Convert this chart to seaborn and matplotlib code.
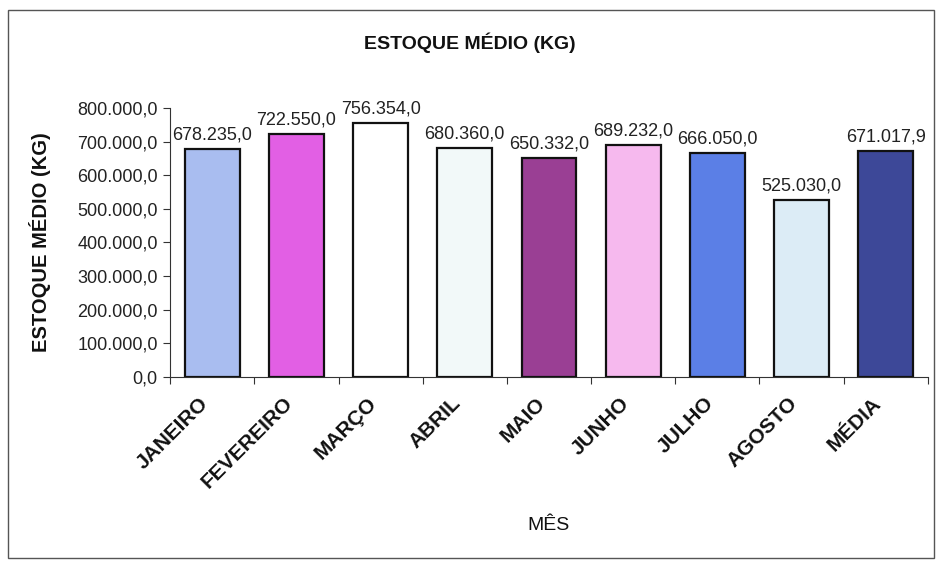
import matplotlib
matplotlib.use("Agg")
import matplotlib.pyplot as plt
import matplotlib.transforms as mtransforms
import seaborn as sns
import pandas as pd
import numpy as np
from matplotlib.patches import Rectangle
from matplotlib.ticker import FuncFormatter, FixedLocator

meses = ["JANEIRO", "FEVEREIRO", "MARÇO", "ABRIL", "MAIO", "JUNHO", "JULHO", "AGOSTO", "MÉDIA"]
estoque = [678235.0, 722550.0, 756354.0, 680360.0, 650332.0, 689232.0, 666050.0, 525030.0, 671017.9]
cores = ["#a9bdf0", "#e25fe4", "#ffffff", "#f2f9f9", "#9a3f94", "#f6b9ee", "#5b7fe6", "#dcecf6", "#3d4898"]


def br(v, _=None):
    s = f"{v:,.1f}"
    return s.replace(",", "X").replace(".", ",").replace("X", ".")


sns.set_theme(style="white")
plt.rcParams["font.family"] = ["Liberation Sans", "DejaVu Sans"]

df = pd.DataFrame({"mes": meses, "estoque": estoque})

fig = plt.figure(figsize=(9.4, 5.65), dpi=100)
ax = fig.add_axes([0.181, 0.333, 0.806, 0.476])

sns.barplot(data=df, x="mes", y="estoque", hue="mes", palette=cores,
            legend=False, width=0.65, edgecolor="#111111", linewidth=1.6,
            saturation=1, ax=ax)

ax.set_ylim(0, 800000)
ax.set_xlim(-0.5, len(meses) - 0.5)
ax.yaxis.set_major_locator(FixedLocator(np.arange(0, 800001, 100000)))
ax.yaxis.set_major_formatter(FuncFormatter(br))
ax.tick_params(axis="y", labelsize=13, length=5, width=0.8, color="#333333",
               left=True, pad=4, labelcolor="#222222")

ax.set_xticks(range(len(meses)))
ax.set_xticklabels(meses, rotation=45, ha="right", va="center", rotation_mode="anchor",
                   fontsize=15, fontweight="bold", color="#111111")
ax.tick_params(axis="x", length=0, pad=17)
shift = mtransforms.ScaledTranslation(-7 / 100, 0, fig.dpi_scale_trans)
for lbl in ax.get_xticklabels():
    lbl.set_transform(lbl.get_transform() + shift)
ax.set_xticks(np.arange(-0.5, len(meses)), minor=True)
ax.tick_params(axis="x", which="minor", length=5, width=0.8, color="#333333", bottom=True)

for side in ["top", "right"]:
    ax.spines[side].set_visible(False)
for side in ["left", "bottom"]:
    ax.spines[side].set_color("#333333")
    ax.spines[side].set_linewidth(0.8)

for i, v in enumerate(estoque):
    ax.annotate(br(v), (i, v), xytext=(0, 4), textcoords="offset points",
                ha="center", va="bottom", fontsize=13, color="#222222")

ax.set_xlabel("MÊS", fontsize=14, color="#111111")
ax.xaxis.set_label_coords(0.5, -0.52)
ax.set_ylabel("ESTOQUE MÉDIO (KG)", fontsize=14.5, fontweight="bold", color="#111111")
ax.yaxis.set_label_coords(-0.157, 0.5)

fig.text(0.5, 0.925, "ESTOQUE MÉDIO (KG)", ha="center", va="center",
         fontsize=14, fontweight="bold", color="#111111")

fig.patches.append(Rectangle((0.009, 0.012), 0.985, 0.97, transform=fig.transFigure,
                             fill=False, edgecolor="#555555", linewidth=1.0))

fig.savefig("out.png", dpi=100)
